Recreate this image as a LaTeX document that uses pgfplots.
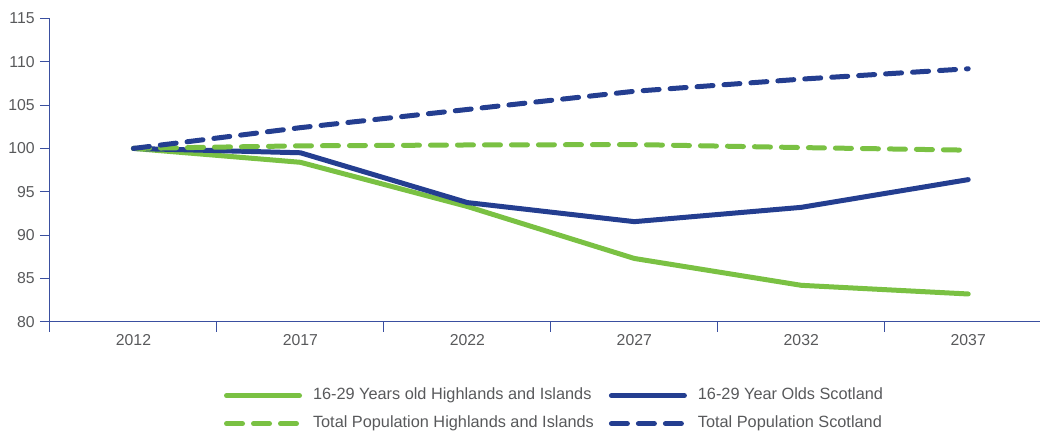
\documentclass[border=0pt]{standalone}
\usepackage{pgfplots}
\pgfplotsset{compat=1.18}
\usepackage{fontspec}
\setmainfont{Liberation Sans}
\definecolor{cgreen}{HTML}{7AC143}
\definecolor{cblue}{HTML}{243E90}
\definecolor{caxis}{HTML}{3A4FA0}
\definecolor{ctext}{HTML}{58595B}
\begin{document}
\fontsize{15.5bp}{18bp}\selectfont
\begin{tikzpicture}
\path[use as bounding box] (-50bp,-110bp) rectangle (992bp,321.7bp);
\begin{axis}[
  at={(0,0)}, anchor=south west,
  scale only axis, width=990bp, height=303.2bp,
  xmin=-0.5, xmax=5.43, ymin=80, ymax=115,
  axis lines=left,
  axis line style={-, draw=caxis, line width=1bp},
  xtick={0,1,2,3,4,5},
  xticklabels={2012,2017,2022,2027,2032,2037},
  minor xtick={-0.5,0.5,1.5,2.5,3.5,4.5},
  ytick={80,85,90,95,100,105,110,115},
  tick align=outside,
  major tick length=10bp, minor tick length=10bp,
  tick style={draw=caxis, line width=1bp},
  major x tick style={draw=none},
  ticklabel style={text=ctext, font=\fontsize{15.8bp}{18bp}\selectfont},
  xticklabel style={yshift=3bp},
  /pgf/number format/assume math mode=true,
  clip=false,
  legend columns=2,
  legend style={draw=none, fill=none, inner sep=0pt, outer sep=0pt,
    at={(0.17576,-0.2902)}, anchor=west,
    font=\fontsize{16.3bp}{18bp}\selectfont, text=ctext,
    nodes={inner sep=0pt, text height=11.5bp, text depth=3.5bp},
    row sep=13bp,
    /tikz/every odd column/.append style={column sep=11bp},
    /tikz/every even column/.append style={column sep=15bp}},
  legend cell align=left,
  legend image code/.code={\draw[#1] (0bp,0bp) -- (73bp,0bp);},
]
\addplot[cgreen, line width=5bp, line cap=round, line join=round]
  coordinates {(0,100)(1,98.4)(2,93.3)(3,87.3)(4,84.2)(5,83.2)};
\addlegendentry{16-29 Years old Highlands and Islands}
\addplot[cblue, line width=5bp, line cap=round, line join=round]
  coordinates {(0,100)(1,99.5)(2,93.75)(3,91.55)(4,93.2)(5,96.4)};
\addlegendentry{16-29 Year Olds Scotland}
\addplot[cgreen, line width=5bp, line cap=round, line join=round, dash pattern=on 16bp off 11bp]
  coordinates {(0,100)(1,100.3)(2,100.4)(3,100.45)(4,100.1)(5,99.8)};
\addlegendentry{Total Population Highlands and Islands}
\addplot[cblue, line width=5bp, line cap=round, line join=round, dash pattern=on 16bp off 11bp]
  coordinates {(0,100)(1,102.4)(2,104.5)(3,106.6)(4,108.0)(5,109.2)};
\addlegendentry{Total Population Scotland}
\end{axis}
\end{tikzpicture}
\end{document}
